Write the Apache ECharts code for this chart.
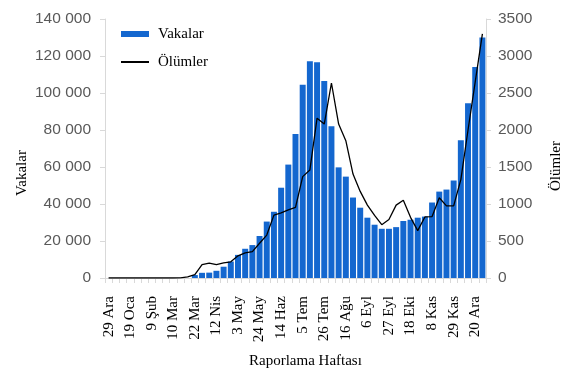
<!DOCTYPE html>
<html>
<head>
<meta charset="utf-8">
<script src="https://cdn.jsdelivr.net/npm/echarts@6/dist/echarts.min.js"></script>
<style>html,body{margin:0;padding:0;background:#fff;}#c{width:580px;height:387px;}</style>
</head>
<body>
<div id="c"></div>
<script>
const weeks = ["29 Ara","5 Oca","12 Oca","19 Oca","26 Oca","2 Şub","9 Şub","16 Şub","23 Şub","10 Mar","8 Mar","15 Mar","22 Mar","29 Mar","5 Nis","12 Nis","19 Nis","26 Nis","3 May","10 May","17 May","24 May","31 May","7 Haz","14 Haz","21 Haz","28 Haz","5 Tem","12 Tem","19 Tem","26 Tem","2 Ağu","9 Ağu","16 Ağu","23 Ağu","30 Ağu","6 Eyl","13 Eyl","20 Eyl","27 Eyl","4 Eki","11 Eki","18 Eki","25 Eki","1 Kas","8 Kas","15 Kas","22 Kas","29 Kas","6 Ara","13 Ara","20 Ara","27 Ara"];
const cases = [0,0,0,0,0,0,0,0,0,0,0,0,1600,2800,2900,3900,6100,8900,12500,15800,17800,22700,30500,35800,48800,61300,77900,104500,117200,116600,106500,82000,59800,54800,43500,38000,32600,28800,26600,26600,27500,30800,31500,32600,33200,40800,46700,47800,52700,74500,94500,114000,130000];
const deaths = [0,0,0,0,0,0,0,0,0,0,3,15,45,180,200,180,205,218,300,340,357,470,580,850,880,920,955,1370,1460,2160,2080,2635,2080,1855,1405,1170,985,845,720,790,985,1050,820,640,825,830,1085,975,975,1330,2000,2650,3300];
const leftTicks = {min:0, max:140000, interval:20000};
const rightTicks = {min:0, max:3500, interval:500};

const chart = echarts.init(document.getElementById('c'), null, {renderer:'canvas'});
const serif = "'Liberation Serif', 'Times New Roman', serif";
const sans = "'Liberation Sans', Arial, sans-serif";
chart.setOption({
  animation:false,
  backgroundColor:'#fff',
  grid:{left:105, right:94, top:19, bottom:109},
  legend:{
    orient:'vertical', left:115, top:20, itemWidth:28, itemHeight:6, itemGap:10,
    textStyle:{fontFamily:serif, fontSize:15, color:'#000', lineHeight:18, padding:[0,0,0,4]},
    data:[{name:'Vakalar', icon:'rect'}, {name:'Ölümler', itemStyle:{opacity:0}}]
  },
  xAxis:{
    type:'category', data:weeks,
    axisLine:{lineStyle:{color:'#d9d9d9'}},
    axisTick:{show:true, interval:0, length:5, lineStyle:{color:'#d9d9d9'}},
    axisLabel:{interval:2, rotate:90, margin:18, fontFamily:serif, fontSize:15, color:'#000'}
  },
  yAxis:[{
    type:'value', min:leftTicks.min, max:leftTicks.max, interval:leftTicks.interval,
    splitLine:{show:false},
    axisLine:{show:true, lineStyle:{color:'#d9d9d9'}},
    axisTick:{show:true, length:5, lineStyle:{color:'#d9d9d9'}},
    axisLabel:{margin:14, fontFamily:sans, fontSize:15.5, color:'#595959',
      formatter:v=>String(v).replace(/\B(?=(\d{3})+(?!\d))/g,' ')}
  },{
    type:'value', min:rightTicks.min, max:rightTicks.max, interval:rightTicks.interval,
    splitLine:{show:false},
    axisLine:{show:true, lineStyle:{color:'#d9d9d9'}},
    axisTick:{show:true, length:5, lineStyle:{color:'#d9d9d9'}},
    axisLabel:{margin:12, fontFamily:sans, fontSize:15.5, color:'#595959', formatter:v=>String(v)}
  }],
  graphic:[
    {type:'text', left:249, top:354, style:{text:'Raporlama Haftası', font:"15px "+serif, fill:'#000'}},
    {type:'text', x:22, y:173, rotation:Math.PI/2, style:{text:'Vakalar', font:"15px "+serif, fill:'#000', align:'center', verticalAlign:'middle'}},
    {type:'text', x:556, y:166, rotation:Math.PI/2, style:{text:'Ölümler', font:"15px "+serif, fill:'#000', align:'center', verticalAlign:'middle'}}
  ],
  series:[
    {name:'Vakalar', type:'bar', data:cases, yAxisIndex:0, barCategoryGap:'17%', itemStyle:{color:'#1467cf'}},
    {name:'Ölümler', type:'line', data:deaths, yAxisIndex:1, symbol:'none', lineStyle:{color:'#000', width:1.3}, itemStyle:{color:'#000'}}
  ]
});
</script>
</body>
</html>
